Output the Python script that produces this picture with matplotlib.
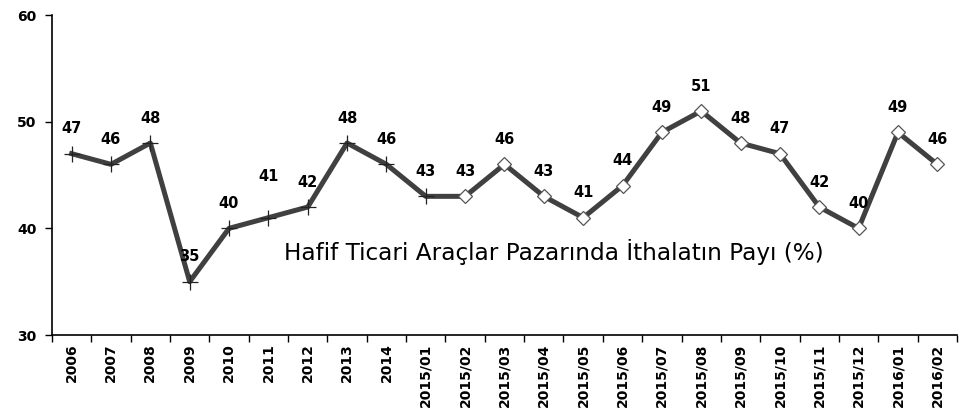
import matplotlib.pyplot as plt

categories = ['2006', '2007', '2008', '2009', '2010', '2011', '2012', '2013', '2014',
              '2015/01', '2015/02', '2015/03', '2015/04', '2015/05', '2015/06',
              '2015/07', '2015/08', '2015/09', '2015/10', '2015/11', '2015/12',
              '2016/01', '2016/02']
values = [47, 46, 48, 35, 40, 41, 42, 48, 46, 43, 43, 46, 43, 41, 44, 49, 51, 48, 47, 42, 40, 49, 46]
n_yearly = 10  # points drawn with '+' markers
title = 'Hafif Ticari Araçlar Pazarında İthalatın Payı (%)'

fig = plt.figure(figsize=(9.77, 4.17), dpi=100)
ax = fig.add_axes([0.0532, 0.1966, 0.9263, 0.7674])

x = list(range(len(values)))
ax.plot(x, values, color='#404040', lw=3.6, zorder=2)
ax.plot(x[:n_yearly], values[:n_yearly], ls='none', marker='+', ms=11,
        mew=0.9, color='#222222', zorder=3)
ax.plot(x[n_yearly:], values[n_yearly:], ls='none', marker='D', ms=7.5,
        mfc='white', mec='#555555', mew=0.9, zorder=3)

for i, v in enumerate(values):
    dy = 30 if categories[i] == '2011' else 18
    ax.annotate(str(v), (i, v), xytext=(0, dy), textcoords='offset points',
                ha='center', va='center', fontsize=10.5, fontweight='bold', color='black')

ax.text(0.555, 0.259, title, transform=ax.transAxes, ha='center', va='center',
        fontsize=16.7, color='black')

ax.set_xlim(-0.5, len(values) - 0.5)
ax.set_ylim(30, 60)
ax.set_yticks([30, 40, 50, 60])
ax.set_xticks(x)
ax.set_xticklabels(categories, rotation=90, fontsize=10, fontweight='bold')
ax.set_xticks([i + 0.5 for i in range(-1, len(values))], minor=True)
ax.tick_params(axis='x', which='major', length=0, pad=6)
ax.tick_params(axis='x', which='minor', length=5, width=1, direction='out')
ax.tick_params(axis='y', length=5, width=1, direction='out', pad=6, labelsize=10)
for lbl in ax.get_yticklabels():
    lbl.set_fontweight('bold')

for s in ['top', 'right']:
    ax.spines[s].set_visible(False)
for s in ['left', 'bottom']:
    ax.spines[s].set_linewidth(1.2)

plt.savefig('out.png', dpi=100)
plt.close()
